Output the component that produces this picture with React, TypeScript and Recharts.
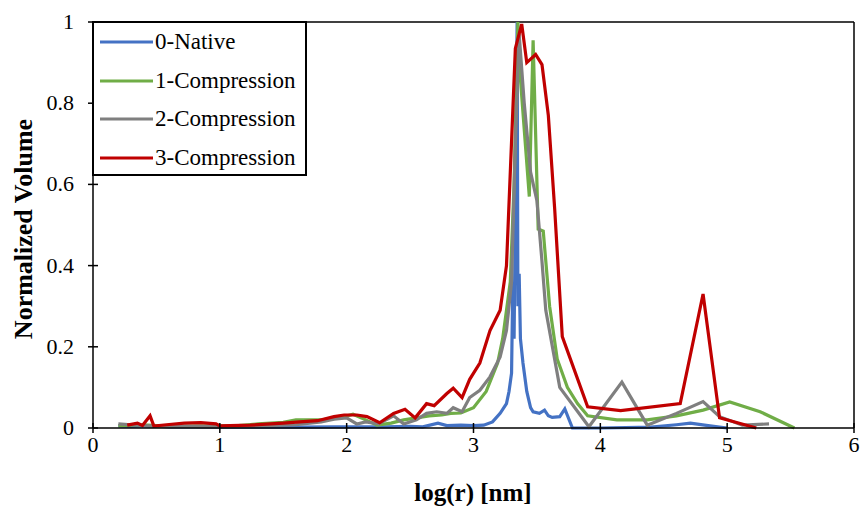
import React from 'react';
import { LineChart, Line, XAxis, YAxis, ReferenceLine } from 'recharts';

const xTicks = [0, 1, 2, 3, 4, 5, 6];
const yTicks = [0, 0.2, 0.4, 0.6, 0.8, 1];
const seriesNames = ['0-Native', '1-Compression', '2-Compression', '3-Compression'];
const seriesColors = ['#4472C4', '#70AD47', '#7F7F7F', '#C00000'];

const nativeX = [0.2, 0.3, 0.45, 0.6, 0.8, 1.0, 1.3, 1.6, 1.9, 2.1, 2.3, 2.5, 2.6, 2.72, 2.79, 2.9, 3.0, 3.08, 3.15, 3.21, 3.26, 3.28, 3.3, 3.31, 3.32, 3.335, 3.344, 3.35, 3.36, 3.37, 3.39, 3.42, 3.45, 3.47, 3.52, 3.56, 3.59, 3.62, 3.68, 3.72, 3.78, 4.0, 4.4, 4.6, 4.71, 4.85, 5.0];
const nativeY = [0.005, 0.004, 0.006, 0.003, 0.003, 0.002, 0.002, 0.002, 0.003, 0.003, 0.003, 0.004, 0.003, 0.012, 0.006, 0.007, 0.006, 0.007, 0.015, 0.036, 0.06, 0.09, 0.135, 0.36, 0.22, 0.7, 1.0, 0.3, 0.38, 0.22, 0.16, 0.09, 0.05, 0.04, 0.036, 0.044, 0.03, 0.026, 0.028, 0.047, 0.0, 0.0, 0.002, 0.008, 0.012, 0.006, 0.0];

const comp1X = [0.2, 0.4, 0.6, 0.9, 1.1, 1.3, 1.5, 1.6, 1.8, 1.95, 2.05, 2.15, 2.24, 2.35, 2.45, 2.55, 2.65, 2.75, 2.82, 2.9, 3.0, 3.1, 3.19, 3.23, 3.29, 3.32, 3.35, 3.37, 3.44, 3.47, 3.51, 3.55, 3.6, 3.66, 3.74, 3.82, 3.9, 4.13, 4.37, 4.6, 4.81, 5.02, 5.26, 5.53];
const comp1Y = [0.006, 0.008, 0.004, 0.005, 0.005, 0.01, 0.014, 0.02, 0.02, 0.025, 0.034, 0.02, 0.007, 0.012, 0.02, 0.025, 0.03, 0.032, 0.036, 0.037, 0.05, 0.09, 0.16, 0.22, 0.36, 0.6, 1.0, 0.86, 0.57, 0.955, 0.49, 0.485, 0.3, 0.17, 0.1, 0.06, 0.03, 0.02, 0.02, 0.03, 0.044, 0.064, 0.04, 0.0];

const comp2X = [0.2, 0.3, 0.5, 0.8, 1.0, 1.3, 1.6, 1.8, 1.9, 2.0, 2.08, 2.15, 2.25, 2.37, 2.45, 2.55, 2.63, 2.71, 2.79, 2.84, 2.91, 2.97, 3.05, 3.13, 3.21, 3.26, 3.3, 3.33, 3.36, 3.4, 3.45, 3.5, 3.54, 3.57, 3.68, 3.91, 4.17, 4.37, 4.6, 4.81, 4.94, 5.12, 5.33];
const comp2Y = [0.01, 0.008, 0.004, 0.004, 0.003, 0.005, 0.008, 0.015, 0.022, 0.025, 0.01, 0.015, 0.01, 0.03, 0.01, 0.02, 0.036, 0.04, 0.036, 0.05, 0.04, 0.075, 0.093, 0.126, 0.175, 0.24, 0.36, 0.7, 0.97, 0.8, 0.63, 0.56, 0.41, 0.29, 0.1, 0.003, 0.113, 0.007, 0.036, 0.065, 0.028, 0.007, 0.01];

const comp3X = [0.27, 0.35, 0.39, 0.45, 0.48, 0.58, 0.72, 0.85, 0.97, 1.0, 1.24, 1.5, 1.63, 1.77, 1.9, 1.98, 2.08, 2.16, 2.26, 2.37, 2.46, 2.54, 2.63, 2.69, 2.79, 2.84, 2.91, 2.97, 3.05, 3.13, 3.21, 3.26, 3.33, 3.38, 3.42, 3.49, 3.54, 3.59, 3.64, 3.7, 3.9, 4.16, 4.63, 4.81, 4.94, 5.23];
const comp3Y = [0.007, 0.012, 0.006, 0.03, 0.005, 0.008, 0.012, 0.013, 0.01, 0.005, 0.007, 0.012, 0.015, 0.018, 0.028, 0.032, 0.032, 0.028, 0.013, 0.036, 0.046, 0.025, 0.06, 0.055, 0.085, 0.098, 0.075, 0.12, 0.16, 0.24, 0.29, 0.4, 0.935, 0.995, 0.9, 0.92, 0.895, 0.77, 0.54, 0.225, 0.052, 0.043, 0.06, 0.33, 0.025, 0.0];

const toData = (xs: number[], ys: number[]) => xs.map((x, i) => ({ x, y: ys[i] }));
const seriesData = [
  toData(nativeX, nativeY),
  toData(comp1X, comp1Y),
  toData(comp2X, comp2Y),
  toData(comp3X, comp3Y),
];

const FONT = '"Liberation Serif", "Times New Roman", serif';

const YTick = (props: any) => {
  const { x, y, payload } = props;
  const v = payload.value;
  const label = v === 0 ? '0' : v === 1 ? '1' : String(v);
  return (
    <g>
      <line x1={x - 5} x2={x + 5} y1={y} y2={y} stroke="#000" strokeWidth={1.5} />
      <text x={x - 19} y={y + 7} textAnchor="end" fontSize={22} fontFamily={FONT} fill="#000">{label}</text>
    </g>
  );
};

const XTick = (props: any) => {
  const { x, y, payload } = props;
  return (
    <g>
      <line x1={x} x2={x} y1={y - 5} y2={y + 5} stroke="#000" strokeWidth={1.5} />
      <text x={x} y={y + 24} textAnchor="middle" fontSize={22} fontFamily={FONT} fill="#000">{String(payload.value)}</text>
    </g>
  );
};

const LegendBox = () => (
  <div style={{ position: 'absolute', left: 92, top: 21, width: 211, height: 151, border: '2px solid #000', background: '#fff', fontFamily: FONT, fontSize: 23, color: '#000', boxSizing: 'content-box' }}>
    {seriesNames.map((n, i) => (
      <div key={n} style={{ position: 'absolute', left: 6, top: 6 + i * 38.5, height: 26, display: 'flex', alignItems: 'center', whiteSpace: 'nowrap' }}>
        <svg width={53} height={6} style={{ display: 'block' }}>
          <line x1={0} x2={53} y1={3} y2={3} stroke={seriesColors[i]} strokeWidth={3} />
        </svg>
        <span style={{ marginLeft: 2, lineHeight: '26px' }}>{n}</span>
      </div>
    ))}
  </div>
);

export default function App() {
  return (
    <div style={{ position: 'absolute', left: 0, top: 0, width: 862, height: 506, background: '#fff' }}>
      <LineChart width={862} height={506} margin={{ top: 22, right: 8, bottom: 0, left: 0 }}>
        <XAxis
          type="number"
          dataKey="x"
          domain={[0, 6]}
          ticks={xTicks}
          allowDuplicatedCategory={false}
          stroke="#000"
          strokeWidth={1.5}
          tickLine={false}
          tickSize={0}
          tickMargin={0}
          tick={<XTick />}
          height={78}
        />
        <YAxis
          type="number"
          domain={[0, 1]}
          ticks={yTicks}
          stroke="#000"
          strokeWidth={1.5}
          tickLine={false}
          tickSize={0}
          tickMargin={0}
          tick={<YTick />}
          width={93}
        />
        <ReferenceLine y={1} stroke="#000" strokeWidth={1.5} />
        <ReferenceLine x={6} stroke="#000" strokeWidth={1.5} />
        {seriesData.map((d, i) => (
          <Line
            key={seriesNames[i]}
            data={d}
            dataKey="y"
            name={seriesNames[i]}
            type="linear"
            stroke={seriesColors[i]}
            strokeWidth={3.2}
            dot={false}
            activeDot={false}
            isAnimationActive={false}
          />
        ))}
      </LineChart>
      <LegendBox />
      <div style={{ position: 'absolute', left: 373, width: 200, top: 478, textAlign: 'center', fontFamily: FONT, fontWeight: 'bold', fontSize: 25, lineHeight: '30px', color: '#000' }}>
        log(r) [nm]
      </div>
      <div style={{ position: 'absolute', left: 24, top: 229, width: 0, height: 0 }}>
        <div style={{ position: 'absolute', left: -150, top: -15, width: 300, textAlign: 'center', transform: 'rotate(-90deg)', fontFamily: FONT, fontWeight: 'bold', fontSize: 26, lineHeight: '30px', color: '#000', whiteSpace: 'nowrap' }}>
          Normalized Volume
        </div>
      </div>
    </div>
  );
}
